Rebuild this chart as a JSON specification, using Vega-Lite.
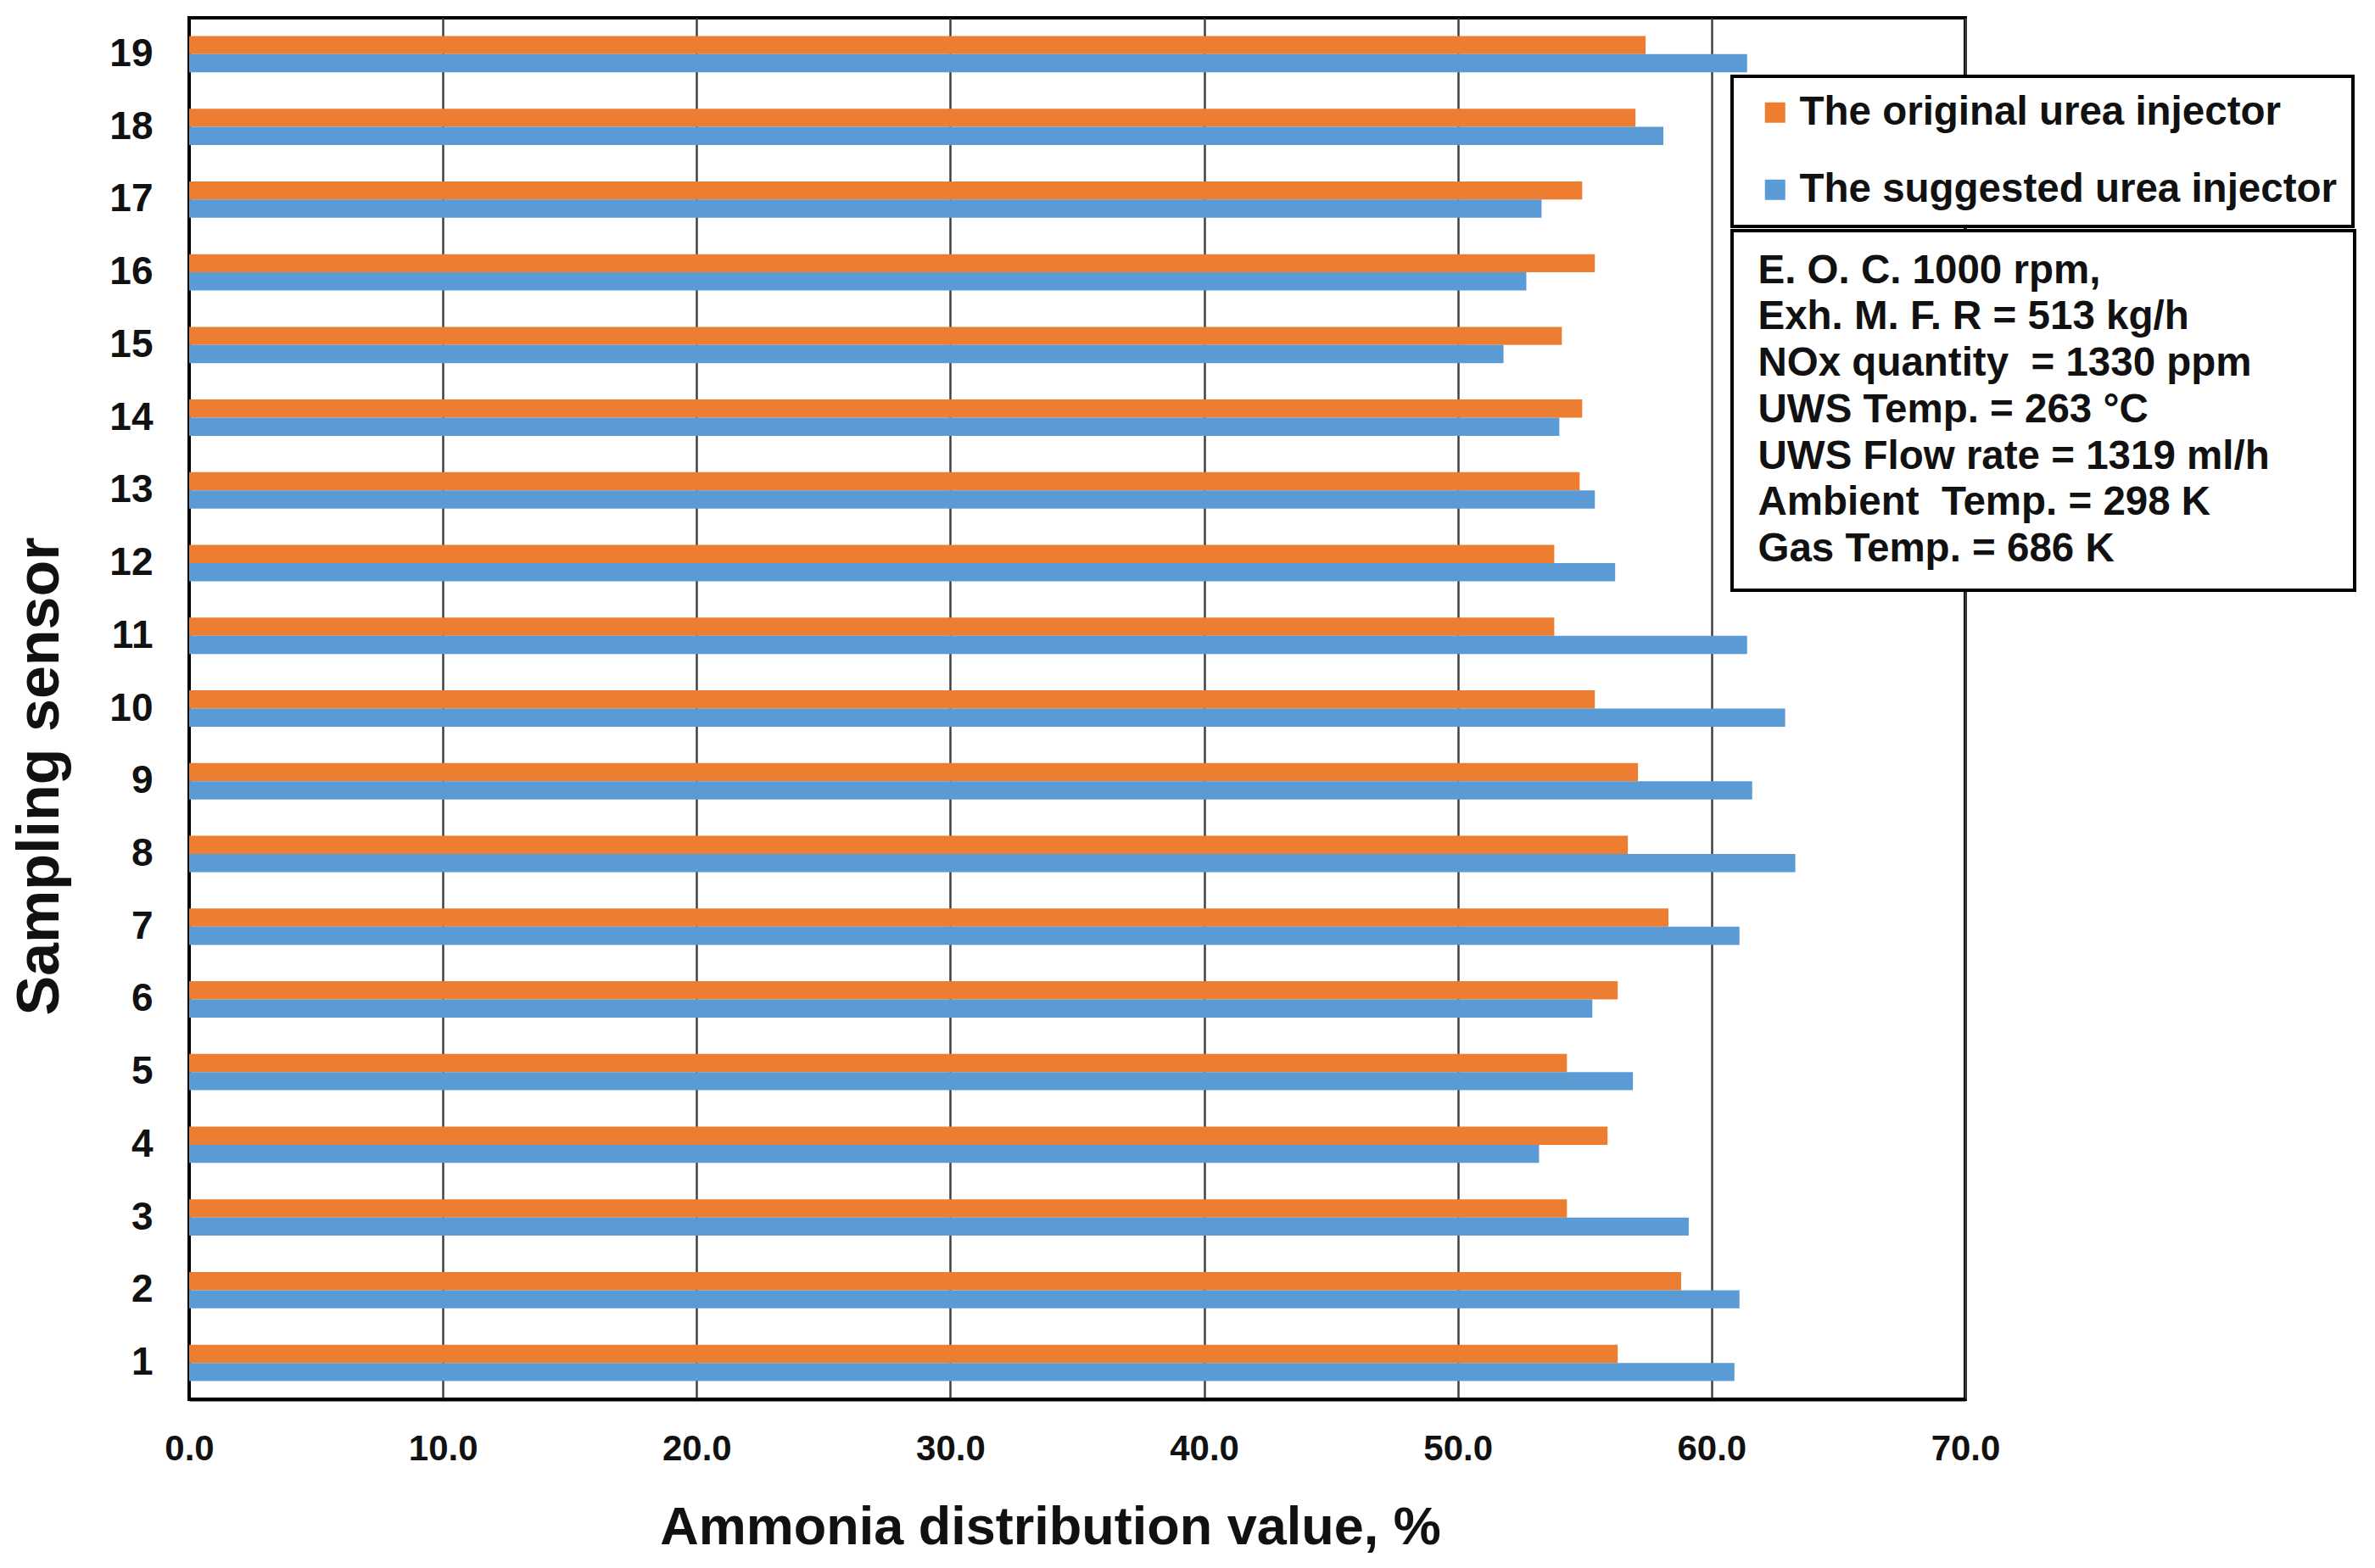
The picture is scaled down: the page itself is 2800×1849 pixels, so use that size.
{
  "$schema": "https://vega.github.io/schema/vega-lite/v6.json",
  "width": 2094,
  "height": 1629,
  "autosize": {"type": "none"},
  "padding": {"left": 223, "top": 21, "right": 483, "bottom": 199},
  "background": "white",
  "datasets": {
    "bars": [
      {"sensor": 1, "injector": "The original urea injector", "value": 56.3},
      {"sensor": 1, "injector": "The suggested urea injector", "value": 60.9},
      {"sensor": 2, "injector": "The original urea injector", "value": 58.8},
      {"sensor": 2, "injector": "The suggested urea injector", "value": 61.1},
      {"sensor": 3, "injector": "The original urea injector", "value": 54.3},
      {"sensor": 3, "injector": "The suggested urea injector", "value": 59.1},
      {"sensor": 4, "injector": "The original urea injector", "value": 55.9},
      {"sensor": 4, "injector": "The suggested urea injector", "value": 53.2},
      {"sensor": 5, "injector": "The original urea injector", "value": 54.3},
      {"sensor": 5, "injector": "The suggested urea injector", "value": 56.9},
      {"sensor": 6, "injector": "The original urea injector", "value": 56.3},
      {"sensor": 6, "injector": "The suggested urea injector", "value": 55.3},
      {"sensor": 7, "injector": "The original urea injector", "value": 58.3},
      {"sensor": 7, "injector": "The suggested urea injector", "value": 61.1},
      {"sensor": 8, "injector": "The original urea injector", "value": 56.7},
      {"sensor": 8, "injector": "The suggested urea injector", "value": 63.3},
      {"sensor": 9, "injector": "The original urea injector", "value": 57.1},
      {"sensor": 9, "injector": "The suggested urea injector", "value": 61.6},
      {"sensor": 10, "injector": "The original urea injector", "value": 55.4},
      {"sensor": 10, "injector": "The suggested urea injector", "value": 62.9},
      {"sensor": 11, "injector": "The original urea injector", "value": 53.8},
      {"sensor": 11, "injector": "The suggested urea injector", "value": 61.4},
      {"sensor": 12, "injector": "The original urea injector", "value": 53.8},
      {"sensor": 12, "injector": "The suggested urea injector", "value": 56.2},
      {"sensor": 13, "injector": "The original urea injector", "value": 54.8},
      {"sensor": 13, "injector": "The suggested urea injector", "value": 55.4},
      {"sensor": 14, "injector": "The original urea injector", "value": 54.9},
      {"sensor": 14, "injector": "The suggested urea injector", "value": 54.0},
      {"sensor": 15, "injector": "The original urea injector", "value": 54.1},
      {"sensor": 15, "injector": "The suggested urea injector", "value": 51.8},
      {"sensor": 16, "injector": "The original urea injector", "value": 55.4},
      {"sensor": 16, "injector": "The suggested urea injector", "value": 52.7},
      {"sensor": 17, "injector": "The original urea injector", "value": 54.9},
      {"sensor": 17, "injector": "The suggested urea injector", "value": 53.3},
      {"sensor": 18, "injector": "The original urea injector", "value": 57.0},
      {"sensor": 18, "injector": "The suggested urea injector", "value": 58.1},
      {"sensor": 19, "injector": "The original urea injector", "value": 57.4},
      {"sensor": 19, "injector": "The suggested urea injector", "value": 61.4}
    ],
    "info": [
      {"line": "E. O. C. 1000 rpm,"},
      {"line": "Exh. M. F. R = 513 kg/h"},
      {"line": "NOx quantity\u00a0 = 1330 ppm"},
      {"line": "UWS Temp. = 263 °C"},
      {"line": "UWS Flow rate = 1319 ml/h"},
      {"line": "Ambient\u00a0 Temp. = 298 K"},
      {"line": "Gas Temp. = 686 K"}
    ]
  },
  "layer": [
    {
      "data": {"name": "bars"},
      "mark": {"type": "bar"},
      "encoding": {
        "y": {
          "field": "sensor",
          "type": "ordinal",
          "sort": "descending",
          "scale": {"paddingInner": 0.5, "paddingOuter": 0.25},
          "axis": {
            "title": "Sampling sensor",
            "titleFontSize": 70,
            "titleFontWeight": "bold",
            "titleAngle": 270,
            "titleAlign": "center",
            "titleBaseline": "alphabetic",
            "titleX": -155,
            "titleY": 894,
            "labelFontSize": 46,
            "labelFontWeight": "bold",
            "labelPadding": 43,
            "ticks": false,
            "grid": false,
            "domainColor": "black",
            "domainWidth": 3
          }
        },
        "yOffset": {
          "field": "injector",
          "sort": ["The original urea injector", "The suggested urea injector"],
          "scale": {"paddingInner": 0, "paddingOuter": 0}
        },
        "x": {
          "field": "value",
          "type": "quantitative",
          "scale": {"domain": [0, 70], "nice": false},
          "axis": {
            "title": "Ammonia distribution value, %",
            "titleFontSize": 63,
            "titleFontWeight": "bold",
            "titlePadding": 41,
            "titleX": 1015,
            "titleAlign": "center",
            "values": [0, 10, 20, 30, 40, 50, 60, 70],
            "format": ".1f",
            "labelFontSize": 42,
            "labelFontWeight": "bold",
            "labelPadding": 38,
            "labelFlush": false,
            "ticks": false,
            "grid": true,
            "gridColor": "#404040",
            "gridWidth": 2.5,
            "domainColor": "black",
            "domainWidth": 4
          }
        },
        "color": {
          "field": "injector",
          "type": "nominal",
          "scale": {
            "domain": ["The original urea injector", "The suggested urea injector"],
            "range": ["#ED7D31", "#5B9BD5"]
          },
          "legend": {
            "title": null,
            "orient": "none",
            "legendX": 1819,
            "legendY": 69,
            "padding": 19,
            "strokeColor": "black",
            "fillColor": "white",
            "symbolType": "square",
            "symbolSize": 576,
            "symbolOffset": 8,
            "symbolStrokeWidth": 0,
            "labelOffset": 5,
            "labelFontSize": 47.5,
            "labelFontWeight": "bold",
            "labelLimit": 1000,
            "rowPadding": 42
          }
        }
      }
    },
    {
      "data": {"name": "info"},
      "mark": {"type": "point", "opacity": 0},
      "encoding": {
        "shape": {
          "field": "line",
          "type": "nominal",
          "scale": {
            "domain": [
              "E. O. C. 1000 rpm,",
              "Exh. M. F. R = 513 kg/h",
              "NOx quantity\u00a0 = 1330 ppm",
              "UWS Temp. = 263 °C",
              "UWS Flow rate = 1319 ml/h",
              "Ambient\u00a0 Temp. = 298 K",
              "Gas Temp. = 686 K"
            ]
          },
          "legend": {
            "title": null,
            "orient": "none",
            "legendX": 1819,
            "legendY": 251,
            "padding": 24,
            "strokeColor": "black",
            "fillColor": "white",
            "symbolSize": 0,
            "symbolOpacity": 0,
            "symbolStrokeWidth": 0,
            "symbolOffset": 662,
            "labelOffset": -703,
            "labelFontSize": 47.5,
            "labelFontWeight": "bold",
            "labelLimit": 1000,
            "rowPadding": 5.7
          }
        }
      }
    }
  ],
  "config": {
    "font": "Liberation Sans",
    "view": {"stroke": "black", "strokeWidth": 4},
    "axis": {"labelColor": "#111", "titleColor": "#111"},
    "legend": {"labelColor": "#111", "strokeWidth": 4}
  }
}
